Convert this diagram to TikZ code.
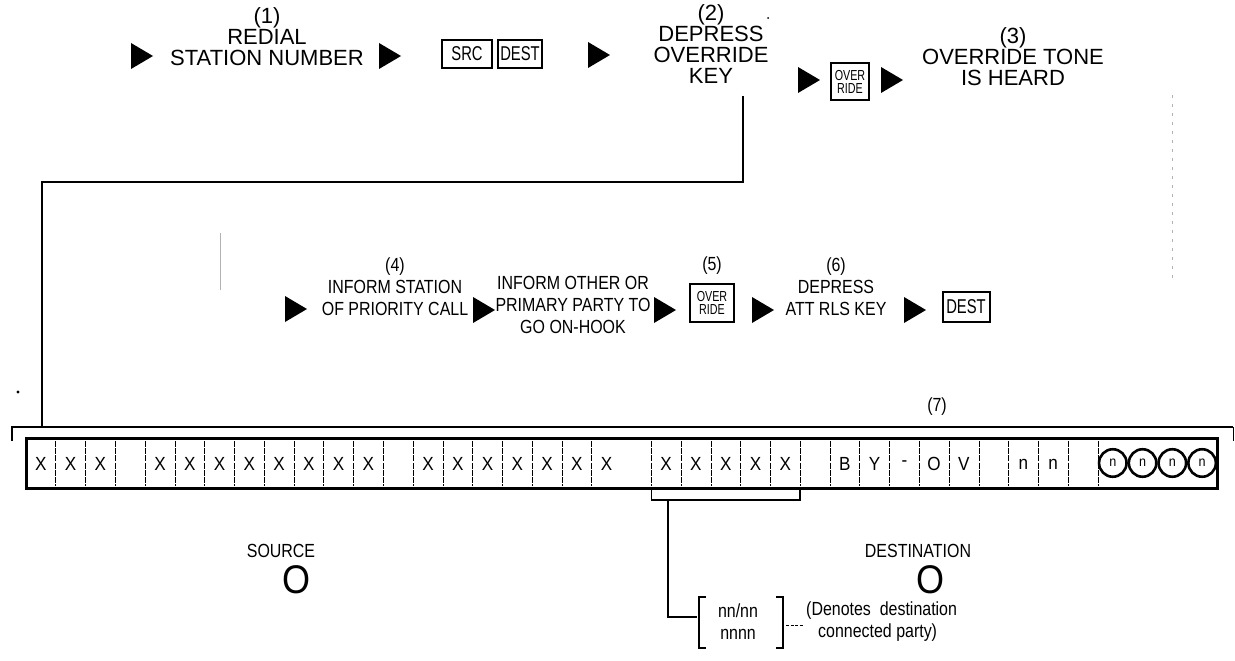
\documentclass[tikz,border=0pt]{standalone}
\usepackage{fontspec}
\setmainfont{Liberation Sans}
\newfontfamily\keyfont[FakeStretch=0.74]{Liberation Sans}
\newfontfamily\rowfont[FakeStretch=0.84]{Liberation Sans}
\newfontfamily\cellfont[FakeStretch=0.9]{Liberation Sans}
\begin{document}
\begin{tikzpicture}[x=1pt,y=-1pt,
  lab/.style={font=\fontsize{22}{21}\selectfont, align=center, inner sep=0pt},
  labs/.style={font=\rowfont\fontsize{19}{22}\selectfont, align=center, inner sep=0pt},
  keybox/.style={draw, line width=2pt, inner sep=0pt, align=center},
  keytext/.style={font=\keyfont\fontsize{20}{20}\selectfont},
  ovrtext/.style={font=\keyfont\fontsize{14.5}{13}\selectfont},
  heavy/.style={line width=2.8pt},
  cellsep/.style={line width=0.6pt, dash pattern=on 6pt off 1.2pt},
  faint/.style={line width=0.5pt, gray!60},
  cellch/.style={font=\cellfont\fontsize{19}{19}\selectfont, inner sep=0pt},
  bigo/.style={inner sep=0pt, font=\cellfont\fontsize{40}{40}\selectfont, text height=28pt, text depth=0pt},
  arr/.pic={\fill (-11,-13) -- (11,0) -- (-11,13) -- cycle;}
]
\useasboundingbox (0,0) rectangle (1235,661);

% ---------- row 1 ----------
\pic (a1) at (142,56) {arr};
\node[lab] (s1) at (267,37) {(1)\\REDIAL\\STATION NUMBER};
\pic (a2) at (390,56) {arr};
\node[keybox, minimum width=50pt, minimum height=28pt, keytext] (src) at (467,54) {SRC};
\node[keybox, minimum width=44pt, minimum height=28pt, keytext] (dest1) at (520,54) {DEST};
\pic (a3) at (599,55) {arr};
\node[lab] (s2) at (711,44) {(2)\\DEPRESS\\OVERRIDE\\KEY};
\pic (a4) at (809,80) {arr};
\node[keybox, minimum width=38pt, minimum height=37pt, ovrtext] (ovr1) at (850,82) {OVER\\RIDE};
\pic (a5) at (892,80) {arr};
\node[lab] (s3) at (1013,57) {(3)\\OVERRIDE TONE\\IS HEARD};

% connector from (2) to display
\coordinate (k1) at (743,96);
\coordinate (k2) at (743,182);
\coordinate (k3) at (42,182);
\coordinate (k4) at (42,427);
\draw[heavy] (k1) -- (k2) -- (k3) -- (k4);

% scan artefacts
\fill (768,18) circle (1pt);
\fill (18,392) circle (1.6pt);
\draw[faint, dash pattern=on 3pt off 6pt] (1172,95) -- (1172,280);
\draw[faint] (220,233) -- (220,290);

% ---------- row 2 ----------
\pic (b1) at (296,309) {arr};
\node[labs] (s4) at (395,287) {(4)\\INFORM STATION\\OF PRIORITY CALL};
\pic (b2) at (484,310) {arr};
\node[labs] (s4b) at (573,305) {INFORM OTHER OR\\PRIMARY PARTY TO\\GO ON-HOOK};
\pic (b3) at (665,310) {arr};
\node[labs] (n5) at (712,266) {(5)};
\node[keybox, minimum width=44pt, minimum height=38pt, ovrtext] (ovr2) at (712,303) {OVER\\RIDE};
\pic (b4) at (763,310) {arr};
\node[labs] (s6) at (836,287) {(6)\\DEPRESS\\ATT RLS KEY};
\pic (b5) at (915,310) {arr};
\node[keybox, minimum width=47pt, minimum height=30pt, keytext] (dest2) at (966,307) {DEST};

% ---------- display ----------
\node[labs] (n7) at (937,407) {(7)};
\draw[heavy] (12,441) -- (12,427) -- (1233,427);
\draw[line width=1pt] (1233,427) -- (1233,441);
\node[draw, line width=3pt, minimum width=1191pt, minimum height=50pt, inner sep=0pt] (disp) at (621.5,463) {};
\foreach \k in {1,...,19,21,22,...,36}
  \draw[cellsep] ({26+\k*29.775},441) -- ({26+\k*29.775},486);
\foreach \i/\t in {0/X,1/X,2/X,4/X,5/X,6/X,7/X,8/X,9/X,10/X,11/X,13/X,14/X,15/X,16/X,17/X,18/X,19/X,21/X,22/X,23/X,24/X,25/X,27/B,28/Y,29/-,30/O,31/V,33/n,34/n}
  \node[cellch] (c\i) at ({26+(\i+0.5)*29.775},464) {\t};
\foreach \i in {36,...,39}
  \node[draw, circle, line width=2.6pt, minimum size=27.5pt, inner sep=0pt, font=\cellfont\fontsize{14}{14}\selectfont] (c\i) at ({26+(\i+0.5)*29.775},463) {n};

% bracket under destination digits
\coordinate (u1) at (651.3,488);
\coordinate (u2) at (651.3,500);
\coordinate (u3) at (800.2,500);
\coordinate (u4) at (800.2,488);
\draw[line width=1.6pt] (u1) -- (u2) -- (u3) -- (u4);
\coordinate (st) at (668,500);
\coordinate (stc) at (668,617);

\node[labs] (src0) at (281,551) {SOURCE};
\node[bigo] (srco) at (296,579) {O};
\node[labs] (dst0) at (918,551) {DESTINATION};
\node[bigo] (dsto) at (930,579) {O};

% bracketed number
\node[labs] (nn) at (738,622) {nn/nn\\nnnn};
\draw[line width=1.1pt] (706,597) -- (699,597) -- (699,648) -- (706,648);
\draw[line width=1.1pt] (776,597) -- (783,597) -- (783,648) -- (776,648);
\coordinate (lb) at (697,617);
\draw[heavy] (st) -- (stc) -- (lb);
\draw[line width=0.8pt, dash pattern=on 3pt off 1.5pt] (786,625) -- (804,625);
\node[labs, align=left, anchor=west] (den) at (806,622) {(Denotes\ \ destination\\\hspace*{12pt}connected party)};
\end{tikzpicture}
\end{document}
